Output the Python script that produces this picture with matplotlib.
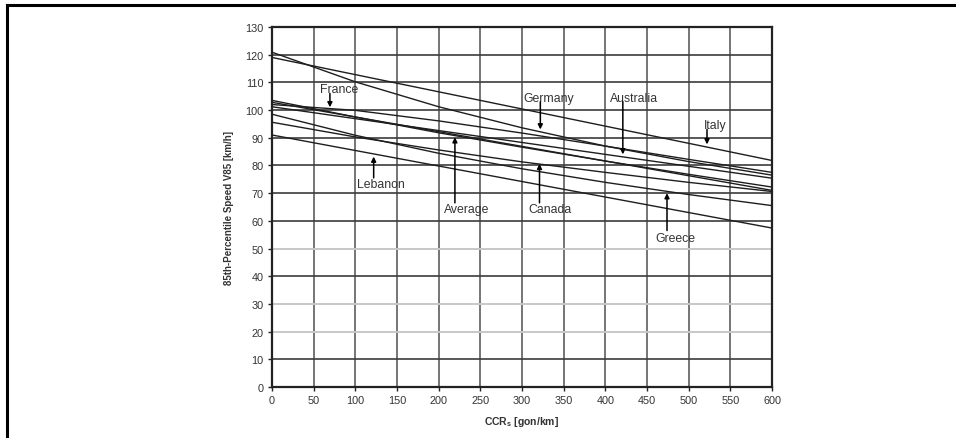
import matplotlib
matplotlib.use("Agg")
import matplotlib.pyplot as plt
from matplotlib.lines import Line2D

plt.rcParams['font.family'] = ['Liberation Sans', 'DejaVu Sans']

# Data
ccr = [0, 100, 200, 300, 400, 500, 600]
germany = [120.9, 110.2, 101.2, 93.6, 87.0, 81.4, 76.5]
italy = [119.0, 112.8, 106.6, 100.4, 94.2, 88.0, 81.8]
france = [102.0, 99.9, 96.1, 91.7, 87.0, 82.2, 77.5]
australia = [101.2, 96.9, 92.6, 88.3, 84.0, 79.7, 75.4]
average = [103.5, 97.5, 91.8, 86.6, 81.6, 76.8, 72.2]
other = [102.8, 97.5, 92.2, 86.9, 81.6, 76.3, 71.0]
canada = [95.6, 90.3, 85.6, 81.3, 77.5, 73.9, 70.6]
greece = [98.5, 90.9, 84.4, 78.8, 73.9, 69.5, 65.5]
lebanon = [91.0, 85.4, 79.8, 74.2, 68.6, 63.0, 57.4]

x_ticks = list(range(0, 601, 50))
y_ticks = list(range(0, 131, 10))

# annotation labels: (label, text x, text y, arrow tail y, arrow tip x, arrow tip y)
labels = ["France", "Germany", "Australia", "Italy", "Lebanon", "Average", "Canada", "Greece"]
text_x = [80, 332, 435, 532, 131, 233, 334, 484]
text_y = [107.5, 104.3, 104.3, 94.5, 73.3, 64.1, 64.1, 53.8]
tail_y = [106.0, 103.0, 103.0, 93.0, 75.5, 66.5, 66.5, 56.5]
tip_x = [69.5, 322, 421, 522, 122, 219.5, 321, 474]
tip_y = [101.0, 93.0, 84.0, 87.6, 83.2, 90.2, 80.6, 70.0]

fig = plt.figure(figsize=(9.56, 4.39), dpi=100)
ax = fig.add_axes([272/956, (439-388)/439, 500/956, 360/439])

ax.set_xlim(0, 600)
ax.set_ylim(0, 130)

# grid
for xv in x_ticks[1:-1]:
    ax.axvline(xv, color='#505050', lw=1.1, zorder=1)
light = {20, 30, 50}
for yv in y_ticks[1:-1]:
    ax.axhline(yv, color='#c8c8c8' if yv in light else '#3c3c3c',
               lw=1.4 if yv in light else 1.2, zorder=1)

for series in [germany, italy, france, australia, average, other, canada, greece, lebanon]:
    ax.plot(ccr, series, color='#1e1e1e', lw=1.0, zorder=3)

for lab, tx, ty, tly, px, py in zip(labels, text_x, text_y, tail_y, tip_x, tip_y):
    ax.text(tx, ty, lab, fontsize=8.8, color='#333333', ha='center', va='center', zorder=4)
    ax.annotate('', xy=(px, py), xytext=(px, tly),
                arrowprops=dict(arrowstyle='-|>', color='black', lw=1.1,
                                mutation_scale=7, shrinkA=0, shrinkB=0), zorder=4)

ax.set_xticks(x_ticks)
ax.set_yticks(y_ticks)
ax.tick_params(axis='both', labelsize=7.8, length=3, width=1, colors='#222222',
               labelcolor='#333333', pad=3)
for sp in ax.spines.values():
    sp.set_color('#222222')
    sp.set_linewidth(1.6)

ax.set_xlabel(r'CCR$_\mathregular{s}$ [gon/km]', fontsize=7.5, fontweight='bold',
              color='#333333', labelpad=6)
ax.set_ylabel('85th-Percentile Speed V85 [km/h]', fontsize=7, fontweight='bold',
              color='#333333', labelpad=8)

# outer frame (top and left edges)
fig.add_artist(Line2D([7/956, 1.0], [1 - 6/439, 1 - 6/439], transform=fig.transFigure,
                      color='black', lw=2.2))
fig.add_artist(Line2D([7/956, 7/956], [0, 1 - 6/439], transform=fig.transFigure,
                      color='black', lw=2.2))

fig.savefig('out.png', dpi=100)
